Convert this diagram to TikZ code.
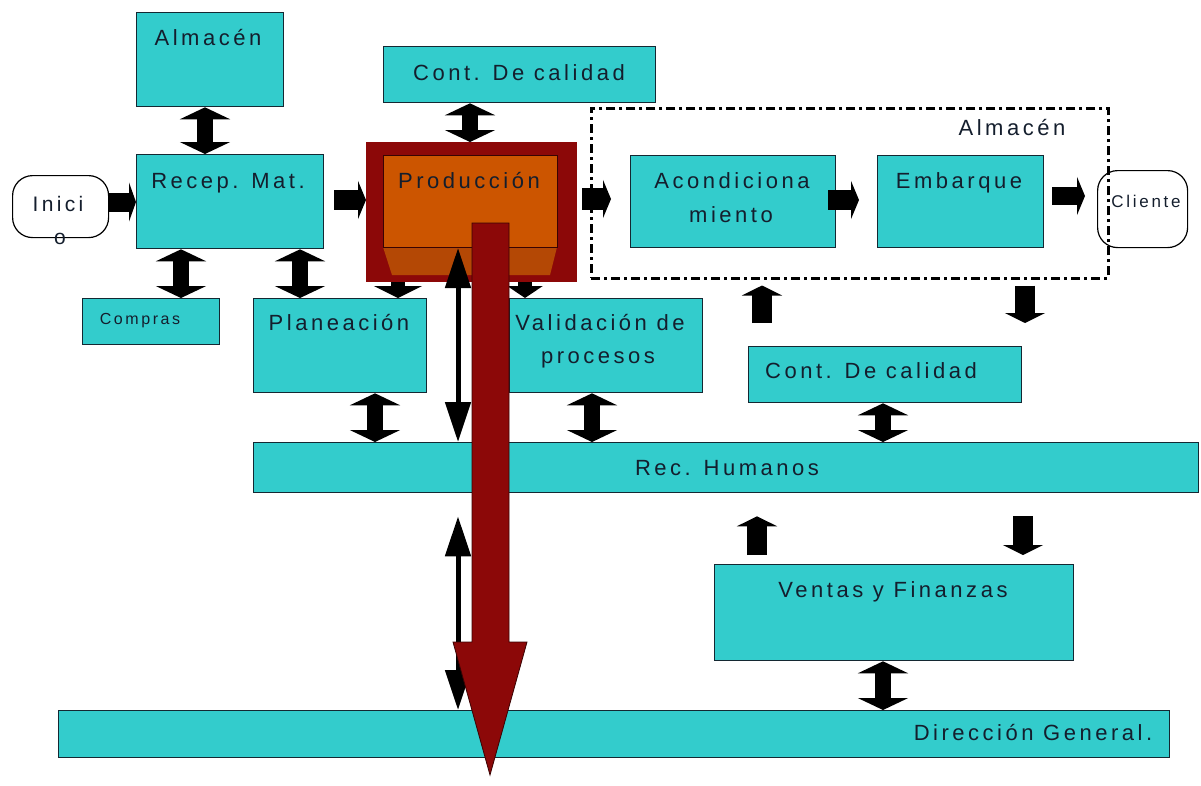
\documentclass[tikz,border=0pt]{standalone}
\usepackage{fontspec}
\setmainfont{Liberation Sans}[LetterSpace=16]
\usetikzlibrary{arrows.meta}
\definecolor{boxfill}{RGB}{51,204,204}
\definecolor{boxline}{RGB}{20,40,50}
\definecolor{ink}{RGB}{20,30,45}
\definecolor{frame}{RGB}{140,8,8}
\definecolor{prodfill}{RGB}{204,85,0}
\definecolor{prodbase}{RGB}{180,72,5}
\begin{document}
\begin{tikzpicture}[x=1pt,y=-1pt,
  box/.style={draw=boxline, line width=1.3pt, fill=boxfill, rectangle, inner sep=0pt, anchor=north west},
  term/.style={draw=black, line width=1.2pt, fill=white, rounded corners=20pt, inner sep=0pt, anchor=north west},
  lbl/.style={text=ink, inner sep=0pt, anchor=base, font=\fontsize{22}{24}\selectfont},
  smalllbl/.style={lbl, font=\fontsize{16}{18}\selectfont},
  dbl/.style={line width=16pt, {Triangle[width=50pt,length=12pt]}-{Triangle[width=50pt,length=12pt]}},
  onearrow/.style={line width=20pt, -{Triangle[width=38pt,length=8pt]}},
  updown/.style={line width=20pt, -{Triangle[width=40pt,length=10pt]}},
  stub/.style={line width=14pt, -{Triangle[width=#1,length=12pt]}},
  thinarrow/.style={line width=5pt, {Triangle[width=25pt,length=40pt]}-{Triangle[width=25pt,length=40pt]}}
]
\useasboundingbox (0,0) rectangle (1201,785);

% ---- boxes ----
\node[box, minimum width=147pt, minimum height=94pt] (almA) at (136,12) {};
\node[box, minimum width=272pt, minimum height=56pt] (calT) at (383,46) {};
\node[term, minimum width=96pt, minimum height=62pt] (inicio) at (12,175) {};
\node[box, minimum width=187pt, minimum height=94pt] (recep) at (136,154) {};
\node[fill=frame, anchor=north west, minimum width=211pt, minimum height=140pt, inner sep=0pt] (prodframe) at (366,142) {};
\fill[prodbase] (383,247) -- (557,247) -- (550,275) -- (392,275) -- cycle;
\node[fill=prodfill, draw=black!60!frame, line width=1pt, anchor=north west, minimum width=174pt, minimum height=92pt, inner sep=0pt] (prod) at (383,155) {};
\node[box, minimum width=205pt, minimum height=92pt] (acond) at (630,155) {};
\node[box, minimum width=166pt, minimum height=92pt] (emb) at (877,155) {};
\node[term, minimum width=90pt, minimum height=77pt] (cliente) at (1097,170) {};
\node[draw=black, dash pattern=on 9pt off 4pt on 3pt off 4pt, line width=2.5pt, anchor=north west, minimum width=517pt, minimum height=170pt, inner sep=0pt] (almB) at (590,107) {};
\node[box, minimum width=137pt, minimum height=46pt] (compras) at (82,298) {};
\node[box, minimum width=173pt, minimum height=94pt] (plan) at (253,298) {};
\node[box, minimum width=193pt, minimum height=94pt] (valid) at (509,298) {};
\node[box, minimum width=273pt, minimum height=56pt] (calR) at (748,346) {};
\node[box, minimum width=945pt, minimum height=50pt] (rh) at (253,442) {};
\node[box, minimum width=359pt, minimum height=96pt] (ventas) at (714,564) {};
\node[box, minimum width=1111pt, minimum height=47pt] (dir) at (58,710) {};

% ---- texts ----
\node[lbl] at (208,45) {Almacén};
\node[lbl] at (519,80) {Cont. De calidad};
\node[lbl, font=\fontsize{21}{23}\selectfont] at (58,211) {Inici};
\node[lbl, font=\fontsize{21}{23}\selectfont] at (60,244) {o};
\node[lbl] at (228,188) {Recep. Mat.};
\node[lbl] at (469,188) {Producción};
\node[lbl] at (732,188) {Acondiciona};
\node[lbl] at (731,222) {miento};
\node[lbl] at (959,188) {Embarque};
\node[lbl] at (1012,135) {Almacén};
\node[smalllbl, font=\fontsize{17}{19}\selectfont] at (1146,207) {Cliente};
\node[smalllbl] at (140,324) {Compras};
\node[lbl] at (339,330) {Planeación};
\node[lbl] at (600,330) {Validación de};
\node[lbl] at (598,363) {procesos};
\node[lbl] at (871,378) {Cont. De calidad};
\node[lbl] at (727,475) {Rec. Humanos};
\node[lbl] at (893,597) {Ventas y Finanzas};
\node[lbl] at (1033,740) {Dirección General.};

% ---- arrow columns and rows ----
\coordinate (c205) at (205,0);
\coordinate (c470) at (470,0);
\coordinate (c181) at (181,0);
\coordinate (c300) at (300,0);
\coordinate (c375) at (375,0);
\coordinate (c592) at (592,0);
\coordinate (c883) at (883,0);
\coordinate (c398) at (398,0);
\coordinate (c525) at (525,0);
\coordinate (c762) at (762,0);
\coordinate (c1025) at (1025,0);
\coordinate (c757) at (757,0);
\coordinate (c1023) at (1023,0);
\coordinate (c458) at (458,0);
\coordinate (r202) at (0,202);
\coordinate (r200) at (0,200);
\coordinate (r199) at (0,199);
\coordinate (r196) at (0,196);

% ---- block connectors ----
\draw[dbl] (almA.south -| c205) -- (recep.north -| c205);
\draw[dbl] (calT.south -| c470) -- (prodframe.north -| c470);
\draw[dbl] (recep.south -| c181) -- (compras.north -| c181);
\draw[dbl] (recep.south -| c300) -- (plan.north -| c300);
\draw[dbl] (plan.south -| c375) -- (rh.north -| c375);
\draw[dbl] (valid.south -| c592) -- (rh.north -| c592);
\draw[dbl] (calR.south -| c883) -- (rh.north -| c883);
\draw[dbl] (ventas.south -| c883) -- (dir.north -| c883);
\draw[stub=48pt] (prodframe.south -| c398) -- (plan.north -| c398);
\draw[stub=35pt] (prodframe.south -| c525) -- (valid.north -| c525);
\draw[updown, shorten <=23pt, shorten >=6pt] (calR.north -| c762) -- (almB.south -| c762);
\draw[updown, shorten <=6pt, shorten >=23pt] (almB.south -| c1025) -- (calR.north -| c1025);
\draw[updown, shorten <=9pt, shorten >=23pt] (ventas.north -| c757) -- (rh.south -| c757);
\draw[updown, shorten <=23pt, shorten >=9pt] (rh.south -| c1023) -- (ventas.north -| c1023);

\draw[onearrow, line width=19pt, -{Triangle[width=39pt,length=7pt]}] (inicio.east |- r202) -- (recep.west |- r202);
\draw[onearrow, shorten <=10pt] (recep.east |- r200) -- (prodframe.west |- r200);
\draw[onearrow, line width=22pt, shorten <=5pt, shorten >=19pt] (prodframe.east |- r199) -- (acond.west |- r199);
\draw[onearrow, shorten <=-8pt, shorten >=18pt] (acond.east |- r200) -- (emb.west |- r200);
\draw[onearrow, line width=18pt, shorten <=8pt, shorten >=12pt] (emb.east |- r196) -- (cliente.west |- r196);

% ---- thin double arrows ----
\draw[thinarrow] (prod.south -| c458) -- (rh.north -| c458);
\draw[thinarrow, shorten <=23pt] (rh.south -| c458) -- (dir.north -| c458);

% ---- large output arrow ----
\filldraw[fill=frame, draw=black!60!frame, line width=0.8pt]
  (472,223) -- (509,223) -- (509,642) -- (527,642) -- (490,775) -- (453,642) -- (472,642) -- cycle;
\end{tikzpicture}
\end{document}
